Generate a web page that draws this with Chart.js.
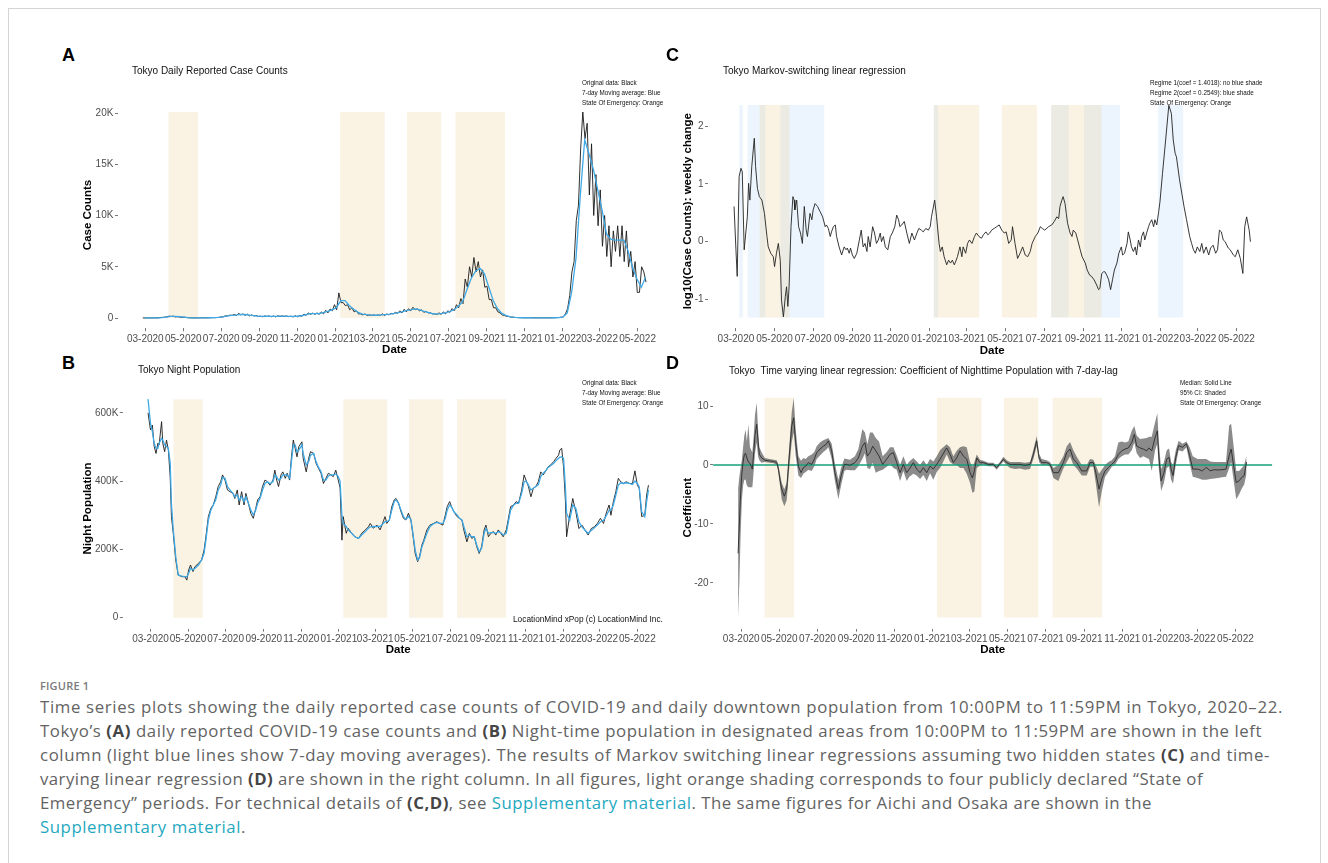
<!DOCTYPE html>
<html>
<head>
<meta charset="utf-8">
<script src="https://cdn.jsdelivr.net/npm/chart.js@4.4.1/dist/chart.umd.min.js"></script>
<style>
  html, body { margin: 0; padding: 0; background: #fff; }
  body { width: 1328px; height: 863px; position: relative; overflow: hidden;
         font-family: "Liberation Sans", Arial, sans-serif; }
  .frame { position: absolute; left: 8px; top: 8px; width: 1311px; height: 900px; border: 1px solid #d4d4d4; }
  canvas { position: absolute; }
  .tag { position: absolute; font: bold 18px/18px "Liberation Sans", Arial, sans-serif; color: #000; }
  .title { position: absolute; font-size: 10px; line-height: 10px; color: #111; white-space: nowrap; }
  .note { position: absolute; font-size: 6.3px; line-height: 10px; color: #111; white-space: nowrap; }
  .credit { position: absolute; font-size: 8.3px; line-height: 8.3px; color: #111; white-space: nowrap; }
  .fig { position: absolute; left: 40px; top: 679px; font: 600 11px/14px "Open Sans", sans-serif;
         color: #7a7a7a; letter-spacing: .2px; }
  .caption { position: absolute; left: 40px; top: 695px; font: 16.8px/24px "Open Sans", sans-serif; color: #636363; }
  .caption .ln { display: block; white-space: nowrap; width: max-content; }
  .caption b { color: #454545; }
  .caption a { color: #1fa8c0; text-decoration: none; }
</style>
</head>
<body>
<div class="frame"></div>

<canvas id="chartCases"></canvas>
<canvas id="chartNight"></canvas>
<canvas id="chartMarkov"></canvas>
<canvas id="chartTvlr"></canvas>

<div class="tag" style="left:62px;top:46px">A</div>
<div class="tag" style="left:62px;top:354px">B</div>
<div class="tag" style="left:666px;top:46px">C</div>
<div class="tag" style="left:666px;top:354px">D</div>

<div class="title" style="left:132px;top:66px">Tokyo Daily Reported Case Counts</div>
<div class="title" style="left:138px;top:365px">Tokyo Night Population</div>
<div class="title" style="left:723px;top:66px">Tokyo Markov-switching linear regression</div>
<div class="title" style="left:729px;top:366px">Tokyo&nbsp; Time varying linear regression: Coefficient of Nighttime Population with 7-day-lag</div>

<div class="note" style="left:582px;top:78px">Original data: Black<br>7-day Moving average: Blue<br>State Of Emergency: Orange</div>
<div class="note" style="left:582px;top:378px">Original data: Black<br>7-day Moving average: Blue<br>State Of Emergency: Orange</div>
<div class="note" style="left:1150px;top:78px">Regime 1(coef = 1.4018): no blue shade<br>Regime 2(coef = 0.2549): blue shade<br>State Of Emergency: Orange</div>
<div class="note" style="left:1180px;top:378px">Median: Solid Line<br>95% CI: Shaded<br>State Of Emergency: Orange</div>

<div class="credit" style="left:513px;top:615px">LocationMind xPop (c) LocationMind Inc.</div>

<div class="fig">FIGURE 1</div>
<div class="caption">
  <span class="ln">Time series plots showing the daily reported case counts of COVID-19 and daily downtown population from 10:00PM to 11:59PM in Tokyo, 2020–22.</span>
  <span class="ln">Tokyo’s <b>(A)</b> daily reported COVID-19 case counts and <b>(B)</b> Night-time population in designated areas from 10:00PM to 11:59PM are shown in the left</span>
  <span class="ln">column (light blue lines show 7-day moving averages). The results of Markov switching linear regressions assuming two hidden states <b>(C)</b> and time-</span>
  <span class="ln">varying linear regression <b>(D)</b> are shown in the right column. In all figures, light orange shading corresponds to four publicly declared “State of</span>
  <span class="ln">Emergency” periods. For technical details of <b>(C,D)</b>, see <a>Supplementary material</a>. The same figures for Aichi and Osaka are shown in the</span>
  <span class="ln"><a>Supplementary material</a>.</span>
</div>

<script>
'use strict';

// ── Dates & ticks ──────────────────────────────────────────
const monthTicks = ['03-2020', '05-2020', '07-2020', '09-2020', '11-2020', '01-2021', '03-2021',
                    '05-2021', '07-2021', '09-2021', '11-2021', '01-2022', '03-2022', '05-2022'];

const emergencyStart = ['2020-04-07', '2021-01-08', '2021-04-25', '2021-07-12'];
const emergencyEnd   = ['2020-05-25', '2021-03-21', '2021-06-20', '2021-09-30'];

// Markov regime 2 (blue shade) periods
const regime2Start = ['2020-03-06', '2020-03-19', '2020-05-10', '2021-01-07', '2021-07-12', '2021-09-02', '2021-12-28'];
const regime2End   = ['2020-03-12', '2020-04-17', '2020-07-19', '2021-01-15', '2021-08-09', '2021-10-29', '2022-02-06'];

// ── A: daily case counts (x = days since 2020-03-01) ──────
const caseRawStart = -4, caseRawStep = 3.5;
const caseRaw = [
  10, 5, 10, 8, 10, 8, 15, 10, 45, 60, 80, 110, 180, 150, 180, 100, 130, 90, 50, 90,
  40, 20, 20, 10, 10, 10, 15, 20, 25, 15, 20, 30, 40, 30, 55, 60, 100, 130, 220, 200,
  280, 250, 350, 250, 450, 300, 400, 250, 380, 200, 300, 200, 250, 150, 180, 120, 200, 150, 200, 120,
  200, 100, 220, 150, 200, 150, 200, 130, 180, 100, 220, 120, 250, 150, 390, 250, 500, 350, 480, 350,
  500, 350, 600, 400, 750, 500, 880, 700, 1300, 800, 2450, 1500, 1500, 1200, 1300, 800, 1000, 600, 700, 400,
  400, 300, 400, 250, 300, 250, 300, 250, 300, 250, 400, 250, 400, 300, 450, 400, 550, 450, 700, 500,
  850, 600, 900, 700, 1050, 800, 900, 700, 800, 550, 650, 500, 500, 400, 400, 350, 500, 350, 600, 400,
  700, 550, 920, 700, 1300, 1000, 1900, 1400, 3800, 3000, 5000, 4000, 5900, 4500, 5500, 4000, 4700, 3000, 3100, 1800,
  1800, 1000, 1000, 600, 500, 300, 250, 150, 150, 80, 70, 50, 40, 30, 30, 20, 25, 20, 25, 20,
  20, 15, 20, 15, 20, 15, 20, 15, 25, 20, 40, 40, 80, 100, 400, 900, 2200, 4500, 5500, 9500,
  11000, 16500, 20100, 17500, 19000, 12000, 17000, 10000, 14000, 9000, 12500, 7000, 10000, 6000, 9000, 5000, 8500, 6500, 9000, 6000,
  9000, 5500, 8500, 5000, 6500, 4000, 5500, 2500, 2500, 5000, 4500, 3500
];
const caseAvgStart = -1, caseAvgStep = 7;
const caseAvg = [
  8, 9, 10, 12, 40, 90, 150, 160, 120, 80, 35, 15, 10, 15, 20, 25, 35, 55, 110, 200,
  260, 290, 360, 340, 290, 240, 190, 150, 170, 165, 160, 180, 175, 160, 150, 170, 220, 320, 420, 420,
  440, 520, 650, 800, 1000, 1700, 1700, 1200, 850, 550, 380, 320, 280, 270, 280, 320, 350, 420, 500, 600,
  730, 800, 880, 820, 680, 560, 440, 380, 430, 500, 620, 800, 1150, 1600, 2800, 3900, 4600, 4850, 4300, 3000,
  1700, 900, 450, 230, 110, 60, 35, 25, 22, 20, 18, 17, 17, 18, 22, 35, 80, 500, 2500, 5800,
  12000, 17400, 16000, 14500, 12500, 10500, 8200, 7700, 7600, 7600, 7600, 6500, 4900, 3800, 3000, 4000
];
const caseTicks = [0, 5000, 10000, 15000, 20000];
const caseTickLabels = ['0', '5K', '10K', '15K', '20K'];

// ── B: night population, thousands ────────────────────────
const nightDays = [
  -4, 0, 3, 6, 9, 12, 14, 18, 20, 23, 26, 29, 32, 34, 37, 41, 45, 51, 56, 59,
  62, 65, 69, 72, 78, 83, 87, 90, 94, 98, 102, 106, 110, 114, 117, 121, 125, 129, 134, 137,
  141, 144, 148, 152, 155, 159, 163, 167, 171, 174, 178, 182, 186, 190, 194, 199, 202, 205, 208, 212,
  215, 219, 222, 226, 229, 232, 235, 238, 241, 246, 248, 253, 257, 260, 265, 269, 273, 277, 281, 285,
  289, 293, 297, 301, 305, 308, 311, 313, 318, 321, 327, 332, 338, 343, 349, 354, 357, 362, 368, 373,
  378, 381, 384, 388, 392, 396, 399, 403, 407, 411, 415, 419, 423, 426, 430, 434, 437, 441, 444, 449,
  454, 460, 465, 470, 475, 479, 482, 486, 489, 493, 498, 502, 506, 509, 514, 518, 522, 526, 530, 534,
  538, 542, 545, 549, 553, 557, 561, 565, 569, 573, 578, 581, 585, 590, 594, 598, 603, 607, 610, 614,
  618, 622, 626, 630, 634, 638, 643, 646, 650, 655, 659, 663, 665, 668, 671, 674, 676, 681, 686, 691,
  696, 701, 706, 711, 716, 721, 726, 731, 736, 741, 745, 748, 752, 756, 760, 764, 768, 773, 778, 783,
  787, 791, 794, 798, 803, 806, 809
];
const nightRawK = [
  600, 550, 564, 501, 481, 511, 506, 574, 511, 486, 520, 491, 413, 296, 247, 169, 125, 120, 120, 110,
  140, 154, 135, 149, 159, 169, 198, 237, 296, 320, 330, 354, 384, 398, 418, 403, 374, 369, 364, 349,
  374, 330, 369, 330, 364, 335, 305, 291, 320, 345, 354, 384, 403, 398, 388, 403, 432, 403, 384, 418,
  427, 408, 423, 403, 471, 520, 496, 471, 501, 515, 467, 427, 467, 486, 481, 452, 437, 423, 393, 408,
  423, 418, 413, 432, 403, 380, 227, 296, 247, 262, 247, 237, 232, 247, 257, 266, 276, 262, 271, 257,
  281, 296, 276, 286, 325, 345, 349, 335, 310, 291, 286, 306, 286, 247, 188, 164, 179, 213, 227, 257,
  271, 276, 281, 276, 271, 301, 325, 340, 325, 310, 296, 291, 286, 257, 222, 247, 232, 237, 208, 188,
  208, 257, 271, 237, 247, 252, 242, 257, 247, 237, 257, 286, 325, 330, 340, 335, 374, 418, 403, 384,
  354, 379, 384, 398, 427, 418, 432, 442, 447, 457, 467, 476, 491, 496, 442, 345, 237, 300, 349, 310,
  261, 271, 256, 242, 261, 266, 276, 291, 276, 310, 330, 300, 340, 369, 408, 398, 393, 398, 393, 393,
  430, 388, 379, 296, 300, 359, 388
];
const nightAvgK = [
  640, 569, 545, 510, 496, 496, 511, 525, 520, 506, 501, 496, 452, 335, 257, 179, 125, 122, 120, 120,
  130, 144, 140, 144, 154, 169, 188, 227, 286, 315, 330, 345, 374, 388, 411, 408, 384, 374, 364, 354,
  359, 345, 354, 340, 354, 335, 315, 301, 315, 335, 350, 374, 393, 398, 393, 398, 418, 413, 403, 408,
  418, 418, 418, 408, 457, 506, 506, 486, 491, 506, 481, 447, 457, 476, 481, 457, 440, 428, 403, 403,
  415, 418, 418, 421, 413, 400, 300, 276, 267, 257, 247, 237, 232, 242, 252, 262, 266, 267, 267, 267,
  276, 281, 281, 286, 315, 340, 345, 335, 315, 296, 288, 296, 288, 252, 198, 169, 174, 208, 222, 247,
  267, 275, 279, 276, 276, 291, 315, 330, 325, 310, 301, 291, 286, 267, 237, 242, 237, 237, 213, 193,
  203, 247, 262, 247, 249, 249, 247, 252, 249, 242, 247, 276, 315, 330, 335, 335, 364, 398, 400, 389,
  374, 379, 384, 389, 413, 423, 432, 440, 445, 452, 460, 467, 470, 471, 467, 384, 306, 285, 330, 320,
  281, 266, 256, 247, 255, 263, 271, 281, 285, 300, 315, 315, 330, 359, 388, 395, 393, 395, 393, 390,
  400, 393, 383, 310, 296, 340, 374
];
const nightTicks = [0, 200, 400, 600];
const nightTickLabels = ['0', '200K', '400K', '600K'];

// ── C: Markov-switching, log10 weekly change ──────────────
const markovDays = [
  -3, 0, 2, 5, 8, 10, 13, 18, 20, 22, 25, 29, 31, 34, 37, 41, 45, 49, 51, 55,
  59, 61, 64, 67, 70, 72, 75, 78, 80, 82, 84, 87, 90, 92, 93, 96, 99, 102, 105, 108,
  111, 113, 117, 120, 122, 125, 129, 133, 137, 141, 143, 146, 149, 151, 154, 157, 159, 163, 167, 171,
  174, 176, 179, 181, 184, 187, 191, 195, 198, 201, 204, 207, 209, 212, 216, 219, 222, 225, 228, 230,
  233, 236, 240, 244, 247, 251, 254, 257, 259, 262, 266, 270, 274, 278, 282, 286, 289, 293, 296, 300,
  304, 307, 309, 314, 317, 321, 323, 326, 329, 333, 336, 339, 342, 345, 347, 350, 352, 354, 357, 359,
  363, 366, 369, 373, 377, 380, 384, 388, 391, 395, 398, 401, 404, 408, 412, 416, 420, 424, 427, 431,
  435, 437, 441, 445, 449, 453, 457, 461, 465, 468, 473, 477, 481, 484, 488, 494, 499, 503, 507, 510,
  512, 515, 517, 520, 522, 524, 528, 531, 533, 537, 540, 544, 547, 552, 555, 559, 562, 566, 570, 573,
  575, 578, 581, 583, 586, 589, 592, 595, 598, 602, 605, 609, 611, 614, 618, 620, 623, 625, 628, 631,
  633, 636, 639, 641, 644, 646, 649, 652, 654, 657, 660, 662, 665, 668, 670, 674, 679, 684, 688, 691,
  694, 696, 701, 708, 712, 717, 720, 723, 726, 729, 733, 736, 739, 743, 747, 750, 754, 758, 761, 764,
  767, 770, 773, 778, 781, 786, 789, 793, 797, 801, 804, 807, 811, 813
];
const markovValues = [
  0.61, -0.14, -0.60, 1.13, 1.27, 1.21, -0.14, 0.43, 1.01, 0.72, 1.30, 1.79, 1.30, 0.92, 0.78, 0.72, 0.49, 0.09, -0.09, -0.20,
  -0.26, -0.43, -0.20, -0.03, -0.32, -1.01, -1.30, -0.95, -0.78, -1.12, -0.78, 0.26, 0.78, 0.72, 0.55, 0.72, 0.26, 0.15, -0.03, 0.61,
  0.20, 0.09, 0.49, 0.38, 0.55, 0.66, 0.61, 0.52, 0.43, 0.26, 0.29, 0.23, 0.09, 0.17, 0.26, 0.29, 0.09, -0.09, -0.23, -0.09,
  -0.14, -0.11, -0.20, -0.11, -0.23, -0.29, -0.20, 0.03, 0.20, -0.09, -0.03, -0.17, 0.09, -0.09, 0.26, 0.15, -0.03, 0.03, 0.15, 0.00,
  0.09, -0.09, -0.14, 0.09, 0.15, 0.26, 0.46, 0.38, 0.26, 0.29, 0.35, 0.15, -0.03, 0.15, 0.03, 0.15, 0.23, 0.20, 0.17, 0.23,
  0.20, 0.26, 0.43, 0.72, 0.43, -0.03, -0.17, -0.09, -0.26, -0.40, -0.32, -0.37, -0.32, -0.40, -0.35, -0.26, -0.17, -0.09, -0.26, -0.09,
  -0.20, -0.03, 0.03, -0.03, 0.09, 0.15, 0.09, 0.06, 0.12, 0.17, 0.12, 0.15, 0.20, 0.23, 0.26, 0.29, 0.20, 0.15, 0.17, -0.03,
  0.03, 0.26, -0.03, -0.29, -0.20, -0.09, -0.23, -0.26, -0.17, -0.03, 0.09, 0.15, 0.26, 0.23, 0.20, 0.26, 0.29, 0.35, 0.43, 0.40,
  0.61, 0.72, 0.78, 0.66, 0.49, 0.32, 0.15, 0.09, 0.20, 0.15, 0.03, -0.14, -0.26, -0.37, -0.49, -0.58, -0.60, -0.66, -0.75, -0.83,
  -0.81, -0.55, -0.52, -0.52, -0.58, -0.66, -0.83, -0.66, -0.49, -0.37, -0.20, -0.09, -0.23, -0.20, -0.03, 0.17, 0.03, -0.09, -0.17, -0.09,
  -0.23, 0.03, -0.09, 0.09, 0.17, 0.03, 0.15, 0.26, 0.32, 0.38, 0.26, 0.38, 0.29, 0.52, 0.69, 1.18, 1.76, 2.36, 2.22, 1.76,
  1.53, 1.47, 1.07, 0.61, 0.38, 0.09, -0.03, -0.14, -0.20, -0.09, -0.17, -0.03, -0.20, -0.09, -0.23, -0.11, -0.06, -0.20, -0.14, 0.20,
  0.17, 0.03, 0.00, -0.11, -0.14, -0.23, -0.26, -0.14, -0.29, -0.55, 0.26, 0.43, 0.20, 0.00
];
const markovTicks = [-1, 0, 1, 2];
const markovTickLabels = ['-1', '0', '1', '2'];

// ── D: time-varying regression coefficient ────────────────
const tvDays = [
  -5, -3, -1, 1, 3, 5, 7, 9, 11.5, 14, 17.8, 20, 22, 24.8, 27, 29, 32.8, 38, 45, 52,
  57, 59.5, 62, 64.8, 69, 72.8, 76.5, 80.8, 84, 87.2, 91.5, 95.7, 99.5, 103.2, 107.5, 112.8, 117, 120.8, 126, 131.5,
  136, 139.5, 144.8, 150, 155.5, 159.8, 165.1, 168.8, 174, 182, 187.5, 193.9, 198, 201.9, 206, 210.5, 215.3, 220.6, 226.4, 232.9,
  238.2, 243.5, 248.9, 254.2, 259.5, 264.9, 269.1, 275.5, 280.9, 286.2, 291.5, 296.9, 302.2, 307.5, 312.9, 318.2, 320.9, 328.9, 334.2, 339.5,
  344.9, 350.2, 355.6, 360.9, 366.2, 370, 373.2, 376.9, 382.2, 387.6, 395.6, 403.6, 408.9, 413.2, 419.6, 424.9, 430.2, 438.2, 446.2, 454.2,
  462.3, 467.6, 472.9, 476.7, 480.9, 488.9, 494.3, 499.6, 507.6, 515.6, 521, 526.3, 531.6, 537, 545, 553, 558.3, 563.6, 567.4, 572.7,
  577, 582.3, 587.6, 593, 598.3, 603.6, 609, 614.3, 619.6, 625, 629.2, 633, 638.3, 643.6, 649, 652.7, 657, 662.3, 666, 668.3,
  672.1, 676.6, 681, 684.8, 688, 691.1, 695.5, 700, 706.3, 712.6, 717.7, 722.7, 730.3, 738, 744.3, 750.6, 757, 763.2, 769.6, 775.9,
  781, 784.1, 787.3, 792.3, 796.7, 801.2, 805, 808.8
];
const tvMedian = [
  -15, -10, -5, -1.5, 0.5, 1.8, 2.0, 1.2, 0.5, 0.3, -0.7, 2, 5, 6.9, 4, 1.8, 1.2, 0.8, 0.7, 0.6,
  0.4, -0.7, -2.5, -4.1, -5.3, -4.1, 1.0, 6.6, 8.0, 3.8, -0.2, -1.3, -0.45, -0.2, 0.4, 0.1, 1.0, 2.1, 2.7, 3.2,
  3.5, 4.1, 2.4, -1.3, -4.1, -1.9, 0.1, 0.1, -0.06, 0.4, 1.2, 3.2, 3.8, 1.5, 2.1, 3.2, 2.4, 1.5, 0.1, 1.0,
  1.8, 2.1, 0.4, -1.3, 0.1, -1.3, -0.7, 0.4, -0.7, -1.3, -0.45, -1.3, -0.2, -0.7, 0.1, 1.0, 1.5, 2.9, 1.8, 0.4,
  1.2, 2.4, 1.5, 1.0, -1.3, -2.2, -1.0, 1.2, 0.4, 0.4, 0.1, 0.1, -0.45, 0.1, 1.0, 0.4, 0.1, 0.1, 0.1, -0.06,
  0.1, 1.8, 4.1, 1.2, 0.4, 0.4, 0.1, -1.3, -1.3, 0.4, 2.1, 2.7, 1.0, 0.4, -1.0, -1.0, 0.4, 0.4, -1.3, -4.1,
  -2.4, -1.0, -0.45, 0.1, 0.7, 1.8, 2.4, 2.7, 2.9, 3.8, 5.2, 3.2, 2.9, 2.7, 2.4, 2.9, 2.4, 4.6, 5.8, 1.6,
  -2.7, -1.3, 1.0, 1.3, -0.7, -1.8, 1.3, 3.3, 3.0, 3.6, 1.6, -0.7, -0.7, -1.0, -0.4, -1.0, -0.8, -0.85, -0.8, -0.7,
  1.6, 2.7, 0.5, -3.0, -2.7, -2.1, -1.8, 0.5
];
const tvLower = [
  -25.9, -20, -12, -6, -3.5, -2.5, -2.5, -3.5, -3.8, -3.8, -3.8, -1, 2, 3.8, 1.5, 0.8, 0.4, 0.5, 0.4, 0.3,
  0, -1.3, -3.5, -5.8, -7, -6, -1, 3.8, 5.5, 1.5, -1.8, -2.2, -1.5, -1.2, -0.8, -1, -0.2, 1.0, 1.6, 2.2,
  2.6, 3.0, 1.0, -2.7, -5.8, -3.5, -1, -0.8, -0.9, -0.9, -0.2, 1.0, 2.0, -0.5, -0.7, 0.4, -1.3, -1, -0.8, -0.3,
  0.2, -0.5, -0.8, -2.7, -1, -2.7, -2, -1.5, -1.8, -2.4, -1.7, -2.7, -1.4, -2.5, -1.2, -0.5, 0, 1.8, 0.5, 0.1,
  0, -0.5, -0.5, -1.5, -3, -4.7, -4.5, -0.5, -0.1, 0.1, -0.2, -0.2, -0.8, -0.2, 0.6, 0, -0.5, -0.7, -0.6, -0.8,
  -0.7, 1.0, 3.2, 0.5, 0, 0, -0.3, -2.2, -2.7, -0.6, 0.5, 1.5, 0, -0.6, -1.8, -1.8, -0.3, -0.3, -3, -7.2,
  -4.5, -2, -1.2, -0.3, 0, 1.0, 1.5, 1.8, 1.8, 2.5, 3.8, 2, 1.2, 1.5, 1.2, 1.0, -1.0, 2.5, 3.6, -0.5,
  -4.4, -3, -0.5, -0.2, -2.5, -3.2, 0, 2.5, 2.3, 3.0, 0.3, -2, -2.2, -2.5, -2.5, -2.4, -2.3, -2.2, -2.1, -2,
  -0.5, 0.5, -2, -5.8, -5, -4, -3.3, -1.5
];
const tvUpper = [
  -4, -2, -0.5, 0.8, 3, 5, 6, 4, 6.9, 3, 2.1, 5, 8.5, 10.6, 6, 3, 2.1, 1.2, 1.0, 0.9,
  0.8, 0, -1.5, -3, -4.1, -3, 2.5, 8.9, 11.4, 6, 1.5, 0.7, 1.2, 1.0, 1.5, 1.8, 2.2, 3.2, 3.8, 4.2,
  4.4, 4.6, 3.6, 0.2, -2.5, -0.5, 1.1, 1, 0.9, 1.5, 2.7, 6.1, 5.5, 3.5, 5.5, 5.5, 4.6, 4, 1.5, 2.2,
  3, 3.0, 1.6, 0, 1.5, 0, 0.6, 1.2, 0.6, 0, 0.8, 0, 1, 0.6, 1.5, 2.5, 2.8, 3.5, 3.0, 1.5,
  2.4, 3.0, 3.2, 3, 0.5, -0.3, 0.5, 1.8, 0.9, 0.7, 0.4, 0.4, -0.1, 0.4, 1.4, 0.8, 0.5, 0.5, 0.5, 0.4,
  0.5, 2.6, 4.9, 1.9, 1.0, 0.8, 0.5, -0.5, 0, 1.5, 3.2, 3.9, 2.5, 1.4, 0, 0, 1, 0.9, 0, -1.5,
  -0.8, 0, 0.5, 0.8, 1.5, 3.8, 4, 3.8, 4, 5.8, 6.6, 5, 4.4, 4.5, 4.6, 4.8, 4.8, 7.2, 8.8, 4,
  -0.7, 0.5, 2.5, 2.8, 0.5, 0, 2.5, 4.1, 3.6, 4.0, 3, 1.5, 1.0, 1.0, 1.0, 0.6, 0.5, 0.5, 0.5, 0.5,
  6.7, 7.0, 4, -1, -1, -0.5, 0, 1.6
];
const tvTicks = [-20, -10, 0, 10];
const tvTickLabels = ['-20', '-10', '0', '10'];

// ── Helpers ───────────────────────────────────────────────
const DAY0 = Date.UTC(2020, 2, 1);
const toDay = s => (Date.parse(s + 'T00:00:00Z') - DAY0) / 86400000;
const monthTickDays = monthTicks.map(t => toDay(t.slice(3) + '-' + t.slice(0, 2) + '-01'));

const ORANGE = 'rgba(232,196,120,0.2)';
const BLUE_SHADE = 'rgba(100,170,240,0.12)';
const LINE_BLACK = '#1a1a1a';
const LINE_BLUE = '#3fa9e6';

Chart.defaults.font.family = '"Liberation Sans", Arial, sans-serif';

const pairs = (xs, ys) => ys.map((y, i) => ({ x: xs[i], y }));
const stepped = (start, step, ys) => ys.map((y, i) => ({ x: start + i * step, y }));

function bands(starts, ends, lo, hi, color) {
  return starts.map((s, i) => ({
    data: [{ x: toDay(s), y: hi }, { x: toDay(ends[i]), y: hi }],
    fill: { value: lo }, backgroundColor: color, borderWidth: 0, pointRadius: 0, order: 10
  }));
}

function line(data, color, width, order) {
  return { data, borderColor: color, borderWidth: width, pointRadius: 0, fill: false, order };
}

function panel(id, box, opt) {
  const cv = document.getElementById(id);
  cv.width = box.w; cv.height = box.h;
  cv.style.left = box.x + 'px'; cv.style.top = box.y + 'px';
  const tickFont = { size: 10 };
  const axisTitleFont = { size: 11.5, weight: 'bold' };
  return new Chart(cv, {
    type: 'line',
    data: { datasets: opt.datasets },
    options: {
      responsive: false, animation: false, devicePixelRatio: 1,
      layout: { padding: { top: box.padTop, right: box.padRight, left: 0, bottom: 0 } },
      plugins: { legend: { display: false }, tooltip: { enabled: false } },
      elements: { line: { tension: 0 }, point: { radius: 0 } },
      scales: {
        x: {
          type: 'linear', min: opt.xMin, max: opt.xMax,
          afterFit: s => { s.height = box.xAxisH; },
          afterBuildTicks: s => { s.ticks = monthTickDays.map(v => ({ value: v })); },
          ticks: { autoSkip: false, maxRotation: 0, padding: 2, color: '#4d4d4d', font: tickFont,
                   callback: (v, i) => monthTicks[i] },
          grid: { drawOnChartArea: false, tickLength: 3, color: '#555', lineWidth: 0.8 },
          border: { display: false },
          title: { display: true, text: 'Date', color: '#000', font: axisTitleFont,
                   padding: { top: 0, bottom: box.xTitlePad } }
        },
        y: {
          min: opt.yMin, max: opt.yMax,
          afterFit: s => { s.width = box.yAxisW; },
          afterBuildTicks: s => { s.ticks = opt.yTicks.map(v => ({ value: v })); },
          ticks: { padding: 1.5, color: '#4d4d4d', font: tickFont, callback: (v, i) => opt.yTickLabels[i] },
          grid: { drawOnChartArea: false, tickLength: 3, color: '#555', lineWidth: 0.8 },
          border: { display: false },
          title: { display: true, text: opt.yTitle, color: '#000', font: axisTitleFont,
                   padding: { top: 1.1, bottom: 0 } }
        }
      }
    }
  });
}

// ── A ─────────────────────────────────────────────────────
panel('chartCases',
  { x: 80, y: 60, w: 600, h: 300, padTop: 41.7, padRight: 8.8, yAxisW: 37.9, xAxisH: 31.7, xTitlePad: 3.1 },
  {
    xMin: -44, xMax: 845, yMin: -1005, yMax: 21105,
    yTicks: caseTicks, yTickLabels: caseTickLabels, yTitle: 'Case Counts',
    datasets: [
      ...bands(emergencyStart, emergencyEnd, 0, 20100, ORANGE),
      line(stepped(caseRawStart, caseRawStep, caseRaw), LINE_BLACK, 0.9, 2),
      line(stepped(caseAvgStart, caseAvgStep, caseAvg), LINE_BLUE, 1.3, 1)
    ]
  });

// ── B ─────────────────────────────────────────────────────
panel('chartNight',
  { x: 80, y: 360, w: 600, h: 305, padTop: 28.2, padRight: 6.3, yAxisW: 42.8, xAxisH: 36.4, xTitlePad: 8.1 },
  {
    xMin: -45, xMax: 850, yMin: -32, yMax: 672,
    yTicks: nightTicks, yTickLabels: nightTickLabels, yTitle: 'Night Population',
    datasets: [
      ...bands(emergencyStart, emergencyEnd, 0, 640, ORANGE),
      line(pairs(nightDays, nightRawK), LINE_BLACK, 0.9, 2),
      line(pairs(nightDays, nightAvgK), LINE_BLUE, 1.3, 1)
    ]
  });

// ── C ─────────────────────────────────────────────────────
panel('chartMarkov',
  { x: 680, y: 60, w: 610, h: 300, padTop: 34.4, padRight: 13.6, yAxisW: 28.1, xAxisH: 31.9, xTitlePad: 2.4 },
  {
    xMin: -44, xMax: 854, yMin: -1.495, yMax: 2.549,
    yTicks: markovTicks, yTickLabels: markovTickLabels, yTitle: 'log10(Case Counts): weekly change',
    datasets: [
      ...bands(emergencyStart, emergencyEnd, -1.311, 2.365, ORANGE),
      ...bands(regime2Start, regime2End, -1.311, 2.365, BLUE_SHADE),
      line(pairs(markovDays, markovValues), '#222', 0.9, 1)
    ]
  });

// ── D ─────────────────────────────────────────────────────
panel('chartTvlr',
  { x: 680, y: 360, w: 610, h: 305, padTop: 26.8, padRight: 17.7, yAxisW: 33.1, xAxisH: 36.4, xTitlePad: 8.1 },
  {
    xMin: -45, xMax: 850, yMin: -27.77, yMax: 13.27,
    yTicks: tvTicks, yTickLabels: tvTickLabels, yTitle: 'Coefficient',
    datasets: [
      ...bands(emergencyStart, emergencyEnd, -25.9, 11.4, ORANGE),
      { data: pairs(tvDays, tvUpper), borderWidth: 0, pointRadius: 0, fill: '+1',
        backgroundColor: 'rgba(90,90,90,0.7)', order: 5 },
      { data: pairs(tvDays, tvLower), borderWidth: 0, pointRadius: 0, fill: false, order: 5 },
      line([{ x: -45, y: 0 }, { x: 850, y: 0 }], '#14a07c', 1.4, 2),
      line(pairs(tvDays, tvMedian), '#2b2b2b', 0.9, 1)
    ]
  });

// ── Caption line fitting ──────────────────────────────────
const captionEnds = [1283, 1262, 1270, 1203, 1152];
function fitCaption() {
  const lines = document.querySelectorAll('.caption .ln');
  let spacingSum = 0;
  lines.forEach((el, i) => {
    el.style.letterSpacing = '0px';
    if (i >= captionEnds.length) return;
    const w = el.getBoundingClientRect().width;
    const sp = (captionEnds[i] - 40 - w) / el.textContent.length;
    el.style.letterSpacing = sp + 'px';
    spacingSum += sp;
  });
  lines[lines.length - 1].style.letterSpacing = (spacingSum / captionEnds.length) + 'px';
}
fitCaption();
if (document.fonts) document.fonts.ready.then(fitCaption);
</script>
</body>
</html>
